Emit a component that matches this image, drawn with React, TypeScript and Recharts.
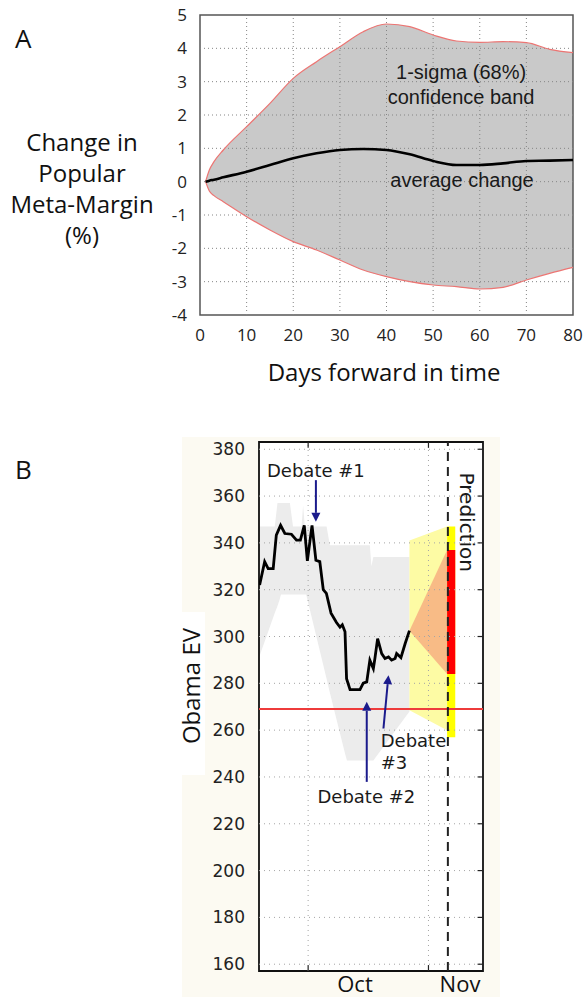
import React from "react";
import {
  ComposedChart,
  Area,
  Line,
  XAxis,
  YAxis,
  ReferenceLine,
  ReferenceArea,
  ReferenceDot,
} from "recharts";

// ---- Panel A: drift of the Meta-Margin, days forward ----
const daysA = [1.2, 2, 3, 5, 10, 15, 20, 25, 30, 35, 40, 45, 50, 55, 60, 65, 70, 75, 80];
const upperA = [0, 0.35, 0.6, 0.95, 1.65, 2.35, 3.1, 3.6, 4.05, 4.5, 4.73, 4.65, 4.4, 4.22, 4.18, 4.2, 4.17, 3.97, 3.87];
const meanA = [0, 0.03, 0.06, 0.13, 0.3, 0.5, 0.7, 0.85, 0.95, 0.98, 0.95, 0.82, 0.62, 0.5, 0.5, 0.55, 0.62, 0.63, 0.65];
const lowerA = [0, -0.28, -0.42, -0.6, -1.05, -1.45, -1.8, -2.05, -2.35, -2.65, -2.85, -3.0, -3.1, -3.15, -3.22, -3.17, -2.95, -2.75, -2.57];
const ticksAX = [0, 10, 20, 30, 40, 50, 60, 70, 80];
const ticksAY = [-4, -3, -2, -1, 0, 1, 2, 3, 4, 5];

// ---- Panel B: Obama EV, days counted from Oct 1 ----
const evDays = [-12.5, -11.2, -10.3, -9.0, -8.2, -7.1, -6.0, -4.3, -3.0, -2.0, -1.0, -0.2, 1.0, 2.0, 3.0, 3.9, 4.7, 5.9, 7.3, 8.2, 8.8, 9.5, 9.9, 10.8, 13.35, 14.2, 15.1, 15.9, 16.8, 17.2, 17.9, 18.95, 19.8, 20.7, 21.5, 22.4, 22.8, 23.9, 25.0, 26.1];
const evMedian = [322, 332, 329, 329, 343.3, 347.5, 344, 343.7, 341.2, 341.2, 347.5, 332.3, 347.5, 332.6, 332, 320, 318.4, 310, 306, 304, 305, 302, 282, 277.3, 277.3, 280.1, 280.6, 289.9, 286.3, 290.6, 299.1, 292.7, 290.6, 291.3, 289.9, 290.6, 292.7, 291, 297, 302.5];

const grayDays = [-12.66, -8.6, -7.9, -7.3, -7.0, -4.7, -3.9, -1.7, -1.3, -0.85, -0.5, 4.75, 5.6, 9.5, 10, 15.9, 16.3, 16.8, 26.1];
const grayHigh = [347, 347, 357, 357, 357, 357, 347, 347, 356, 347, 347, 347, 339, 339, 339, 339, 330, 334, 334];
const grayLow = [291, 310, 313, 316, 318, 318, 318, 318, 318, 318, 318, 282, 276, 250, 247, 247, 247, 247, 268];

const coneDays = [26.1, 35.8];
const coneHigh = [341, 347];
const coneLow = [268.5, 260];
const fanHigh = [302.5, 337];
const fanLow = [302.5, 284];
const barDays = [35.8, 37.9];
const barYellow = [257, 347];
const barRed = [284, 337];

const electionDay = 36;
const winLine = 269;
const domainBX = [-12.66, 45.05];
const domainBY = [157.1, 383.1];
const ticksBX = [0, 31];
const ticksBY = [160, 180, 200, 220, 240, 260, 280, 300, 320, 340, 360, 380];

const debateArrows = [
  { from: { x: 2.0, y: 366.8 }, to: { x: 2.0, y: 349 } },
  { from: { x: 15.1, y: 237.9 }, to: { x: 15.1, y: 272.1 } },
  { from: { x: 19.4, y: 260.7 }, to: { x: 20.7, y: 283.5 } },
];

const NAVY = "#1b1b8c";
const SANS_A = "'Open Sans', 'Noto Sans', sans-serif";
const SANS_B = "'DejaVu Sans', sans-serif";
const ARIAL = "'Liberation Sans', Arial, sans-serif";

const rowsA = daysA.map((d, i) => ({
  d,
  band: [lowerA[i], upperA[i]],
  upper: upperA[i],
  lower: lowerA[i],
  mean: meanA[i],
}));
const evRows = evDays.map((d, i) => ({ d, ev: evMedian[i] }));
const grayRows = grayDays.map((d, i) => ({ d, r: [grayLow[i], grayHigh[i]] }));
const coneRows = coneDays.map((d, i) => ({ d, r: [coneLow[i], coneHigh[i]] }));
const fanRows = coneDays.map((d, i) => ({ d, r: [fanLow[i], fanHigh[i]] }));
const barYRows = barDays.map((d) => ({ d, r: barYellow }));
const barRRows = barDays.map((d) => ({ d, r: barRed }));

function Arrow(props: any) {
  const { x1, y1, x2, y2 } = props;
  const ang = Math.atan2(y2 - y1, x2 - x1);
  const len = 9;
  const half = 4.5;
  const bx = x2 - len * Math.cos(ang);
  const by = y2 - len * Math.sin(ang);
  const px = -Math.sin(ang) * half;
  const py = Math.cos(ang) * half;
  return (
    <g>
      <line x1={x1} y1={y1} x2={bx} y2={by} stroke={NAVY} strokeWidth={2} />
      <polygon points={`${x2},${y2} ${bx + px},${by + py} ${bx - px},${by - py}`} fill={NAVY} />
    </g>
  );
}

function note(key: string, x: number, y: number, text: string, font: string, size: number, anchor = "middle", angle = 0) {
  return (
    <ReferenceDot
      key={key}
      x={x}
      y={y}
      r={0}
      fill="none"
      stroke="none"
      ifOverflow="visible"
      label={{
        position: "center",
        content: (p: any) => {
          const vb = p.viewBox || {};
          const cx = (vb.x || 0) + (vb.width || 0) / 2;
          const cy = (vb.y || 0) + (vb.height || 0) / 2;
          return (
            <text
              x={cx}
              y={cy}
              textAnchor={anchor}
              dominantBaseline="central"
              fontFamily={font}
              fontSize={size}
              fill="#1a1a1a"
              transform={angle ? `rotate(${angle} ${cx} ${cy})` : undefined}
            >
              {text}
            </text>
          );
        },
      }}
    />
  );
}

// dotted grid drawn as reference lines so it stays visible over the filled bands
function dottedGrid(prefix: string, xs: number[], ys: number[], color: string, dash: string) {
  return [
    ...xs.map((x) => <ReferenceLine key={`${prefix}x${x}`} x={x} stroke={color} strokeDasharray={dash} strokeWidth={1} />),
    ...ys.map((y) => <ReferenceLine key={`${prefix}y${y}`} y={y} stroke={color} strokeDasharray={dash} strokeWidth={1} />),
  ];
}

const abs = (left: number, top: number, extra: React.CSSProperties = {}): React.CSSProperties => ({
  position: "absolute",
  left,
  top,
  ...extra,
});

export default function App() {
  return (
    <div style={{ position: "absolute", left: 0, top: 0, width: 584, height: 997, background: "#fff", overflow: "hidden" }}>
      {/* Panel A */}
      <div style={abs(15, 20, { fontFamily: SANS_A, fontSize: 26, color: "#111" })}>A</div>
      <div
        style={abs(0, 126, {
          width: 164,
          textAlign: "center",
          fontFamily: SANS_A,
          fontSize: 24,
          lineHeight: "31px",
          color: "#111",
        })}
      >
        Change in
        <br />
        Popular
        <br />
        Meta-Margin
        <br />
        (%)
      </div>
      <div style={abs(0, 0)}>
        <ComposedChart width={584} height={400} data={rowsA} margin={{ top: 15, right: 11, bottom: 55, left: 140 }}>
          <XAxis
            dataKey="d"
            type="number"
            domain={[0, 80]}
            ticks={ticksAX}
            interval={0}
            axisLine={false}
            tickLine={false}
            tickMargin={8}
            height={30}
            tick={{ fontSize: 17, fontFamily: SANS_A, fill: "#222" }}
          />
          <YAxis
            type="number"
            domain={[-4, 5]}
            ticks={ticksAY}
            interval={0}
            axisLine={false}
            tickLine={false}
            tickMargin={7}
            width={60}
            tick={{ fontSize: 17, fontFamily: SANS_A, fill: "#222" }}
          />
          <Area dataKey="band" type="monotone" fill="#c9c9c9" fillOpacity={1} stroke="none" isAnimationActive={false} />
          {dottedGrid("ga", ticksAX.slice(1, -1), ticksAY.slice(1, -1), "#858585", "1 3")}
          <Line dataKey="upper" type="monotone" stroke="#ec7573" strokeWidth={1.2} dot={false} isAnimationActive={false} />
          <Line dataKey="lower" type="monotone" stroke="#ec7573" strokeWidth={1.2} dot={false} isAnimationActive={false} />
          <Line dataKey="mean" type="monotone" stroke="#000" strokeWidth={2.6} dot={false} isAnimationActive={false} />
          <ReferenceArea x1={0} x2={80} y1={-4} y2={5} fill="none" stroke="#555" strokeWidth={1.5} />
          {note("a1", 56, 3.29, "1-sigma (68%)", ARIAL, 20)}
          {note("a2", 56, 2.54, "confidence band", ARIAL, 20)}
          {note("a3", 56.2, 0.05, "average change", ARIAL, 20)}
        </ComposedChart>
      </div>
      <div style={abs(0, 355, { width: 768, textAlign: "center", fontFamily: SANS_A, fontSize: 24, color: "#111" })}>
        Days forward in time
      </div>

      {/* Panel B */}
      <div style={abs(15, 451, { fontFamily: SANS_A, fontSize: 26, color: "#111" })}>B</div>
      <div style={abs(182, 437, { width: 318, height: 560, background: "#fcfaf2" })} />
      <div style={abs(259, 442, { width: 224, height: 529, background: "#fff" })} />
      <div style={abs(175, 612, { width: 30, height: 163, background: "#fff" })} />
      <div
        style={abs(190, 686, {
          transform: "translate(-50%, -50%) rotate(-90deg)",
          fontFamily: SANS_A,
          fontSize: 24,
          color: "#111",
          whiteSpace: "nowrap",
        })}
      >
        Obama EV
      </div>
      <div style={abs(0, 420)}>
        <ComposedChart width={584} height={577} margin={{ top: 22, right: 101, bottom: 0, left: 209 }}>
          <XAxis
            dataKey="d"
            type="number"
            domain={domainBX}
            ticks={ticksBX}
            interval={0}
            allowDataOverflow
            tick={false}
            axisLine={false}
            tickLine={false}
            height={26}
          />
          <YAxis
            type="number"
            domain={domainBY}
            ticks={ticksBY}
            interval={0}
            allowDataOverflow
            axisLine={false}
            tickLine={false}
            tickMargin={8}
            width={50}
            tick={{ fontSize: 17, fontFamily: SANS_B, fill: "#222" }}
          />
          <Area data={grayRows} dataKey="r" type="linear" fill="#ececec" fillOpacity={1} stroke="none" isAnimationActive={false} />
          <Area data={coneRows} dataKey="r" type="linear" fill="#fdfba4" fillOpacity={1} stroke="none" isAnimationActive={false} />
          <Area data={fanRows} dataKey="r" type="linear" fill="#f8bb86" fillOpacity={1} stroke="none" isAnimationActive={false} />
          <Area data={barYRows} dataKey="r" type="linear" fill="#ffff00" fillOpacity={1} stroke="none" isAnimationActive={false} />
          <Area data={barRRows} dataKey="r" type="linear" fill="#ff0000" fillOpacity={1} stroke="none" isAnimationActive={false} />
          {dottedGrid("gb", ticksBX, ticksBY, "#a5a5a5", "1 4")}
          <Line data={evRows} dataKey="ev" type="linear" stroke="#000" strokeWidth={2.8} dot={false} isAnimationActive={false} />
          <ReferenceLine y={winLine} stroke="#ee3b3b" strokeWidth={2} />
          <ReferenceLine x={electionDay} stroke="#222" strokeWidth={2} strokeDasharray="9 6" />
          {debateArrows.map((a, i) => (
            <ReferenceLine key={`arr${i}`} segment={[a.from, a.to]} shape={Arrow} />
          ))}
          {/* short inward tick marks on the bottom, top and right edges */}
          {ticksBX.map((t) => (
            <ReferenceLine key={`tb${t}`} segment={[{ x: t, y: domainBY[0] }, { x: t, y: domainBY[0] + 2.5 }]} stroke="#222" strokeWidth={1.2} />
          ))}
          {ticksBX.map((t) => (
            <ReferenceLine key={`tt${t}`} segment={[{ x: t, y: domainBY[1] }, { x: t, y: domainBY[1] - 2.5 }]} stroke="#222" strokeWidth={1.2} />
          ))}
          {ticksBY.map((t) => (
            <ReferenceLine key={`tr${t}`} segment={[{ x: domainBX[1], y: t }, { x: domainBX[1] - 1.4, y: t }]} stroke="#222" strokeWidth={1.2} />
          ))}
          <ReferenceArea x1={domainBX[0]} x2={domainBX[1]} y1={domainBY[0]} y2={domainBY[1]} fill="none" stroke="#111" strokeWidth={1.8} />
          {note("b1", 2.0, 371, "Debate #1", SANS_B, 18)}
          {note("b2", 15.0, 231.8, "Debate #2", SANS_B, 18)}
          {note("b3", 18.7, 255.7, "Debate", SANS_B, 18, "start")}
          {note("b4", 18.7, 246.3, "#3", SANS_B, 18, "start")}
          {note("b5", 41.0, 348.8, "Prediction", SANS_B, 20, "middle", 90)}
        </ComposedChart>
      </div>
      <div style={abs(355, 983, { transform: "translate(-50%, -50%)", fontFamily: SANS_A, fontSize: 22, lineHeight: "24px", color: "#111" })}>Oct</div>
      <div style={abs(460, 983, { transform: "translate(-50%, -50%)", fontFamily: SANS_A, fontSize: 22, lineHeight: "24px", color: "#111" })}>Nov</div>
    </div>
  );
}
